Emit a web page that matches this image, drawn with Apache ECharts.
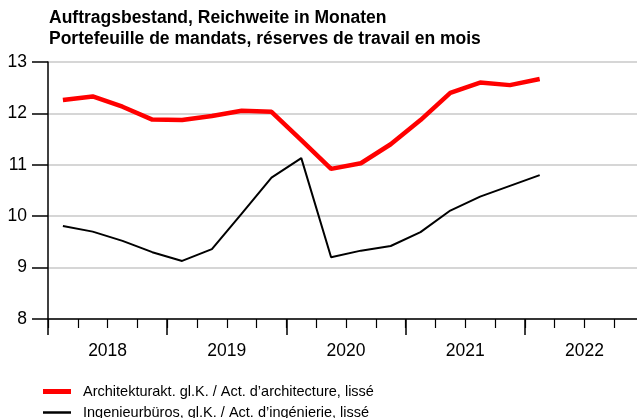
<!DOCTYPE html>
<html>
<head>
<meta charset="utf-8">
<script src="https://cdn.jsdelivr.net/npm/echarts@6/dist/echarts.min.js"></script>
<style>
  html, body { margin: 0; padding: 0; background: #fff; }
  #chart { width: 637px; height: 418px; }
</style>
</head>
<body>
<div id="chart"></div>
<script>
// Quartale 2018 Q1 - 2022 Q4
const quarters = []
;['2018', '2019', '2020', '2021', '2022'].forEach(y => {
  for (let q = 1; q <= 4; q++) quarters.push(y + ' Q' + q)
})
const years = ['2018', '2019', '2020', '2021', '2022']

// Architektur, geglättet
const architektur = [12.26, 12.33, 12.13, 11.88, 11.87, 11.95, 12.05, 12.03,
  11.48, 10.92, 11.03, 11.40, 11.87, 12.40, 12.60, 12.55, 12.67]
// Ingenieurbüros, geglättet
const ingenieur = [9.81, 9.70, 9.52, 9.30, 9.13, 9.36, 10.05, 10.75,
  11.13, 9.20, 9.33, 9.42, 9.69, 10.11, 10.38, 10.59, 10.80]

const nameArch = 'Architekturakt. gl.K. / Act. d’architecture, lissé'
const nameIng = 'Ingenieurbüros, gl.K. / Act. d’ingénierie, lissé'

const FONT = '"Liberation Sans", Arial, sans-serif'

const chart = echarts.init(document.getElementById('chart'))

const legendText = { fontFamily: FONT, fontSize: 14.5, color: '#000', padding: [0, 0, 0, 7] }

chart.setOption({
  animation: false,
  textStyle: { fontFamily: FONT },
  title: {
    text: 'Auftragsbestand, Reichweite in Monaten\nPortefeuille de mandats, réserves de travail en mois',
    left: 49,
    top: 8,
    padding: 0,
    textStyle: {
      fontFamily: FONT,
      fontSize: 17.5,
      fontWeight: 'bold',
      color: '#000',
      lineHeight: 21
    }
  },
  legend: [
    {
      left: 43,
      top: 384,
      padding: 0,
      icon: 'rect',
      itemWidth: 28,
      itemHeight: 5,
      textStyle: legendText,
      data: [{ name: nameArch, itemStyle: { color: '#ff0000' } }]
    },
    {
      left: 43,
      top: 405,
      padding: 0,
      icon: 'rect',
      itemWidth: 28,
      itemHeight: 2.5,
      textStyle: legendText,
      data: [{ name: nameIng, itemStyle: { color: '#000' } }]
    }
  ],
  grid: {
    left: 48,
    width: 596,
    top: 62,
    bottom: 99,
    containLabel: false,
    outerBoundsMode: 'none'
  },
  xAxis: [
    {
      type: 'category',
      data: quarters,
      boundaryGap: true,
      axisLine: { show: true, lineStyle: { color: '#000', width: 1.5 } },
      axisTick: { show: true, interval: 0, length: 9, lineStyle: { color: '#000', width: 1.2 } },
      axisLabel: { show: false },
      splitLine: { show: false }
    },
    {
      type: 'category',
      data: years,
      position: 'bottom',
      boundaryGap: true,
      axisLine: { show: false },
      axisTick: { show: true, interval: 0, length: 16, lineStyle: { color: '#000', width: 1.5 } },
      axisLabel: { show: true, interval: 0, margin: 23, fontSize: 17.5, color: '#000', fontFamily: FONT },
      splitLine: { show: false }
    }
  ],
  yAxis: {
    type: 'value',
    min: 8,
    max: 13,
    interval: 1,
    axisLine: { show: true, lineStyle: { color: '#000', width: 1.5 } },
    axisTick: { show: true, length: 16, lineStyle: { color: '#000', width: 1.5 } },
    axisLabel: { margin: 21, fontSize: 17.5, color: '#000', fontFamily: FONT },
    splitLine: { lineStyle: { color: '#c8c8c8', width: 1.5 } }
  },
  series: [
    {
      name: nameArch,
      type: 'line',
      data: architektur,
      symbol: 'none',
      lineStyle: { color: '#ff0000', width: 4.5 },
      itemStyle: { color: '#ff0000' },
      z: 3
    },
    {
      name: nameIng,
      type: 'line',
      data: ingenieur,
      symbol: 'none',
      lineStyle: { color: '#000', width: 2 },
      itemStyle: { color: '#000' },
      z: 2
    }
  ]
})
</script>
</body>
</html>
